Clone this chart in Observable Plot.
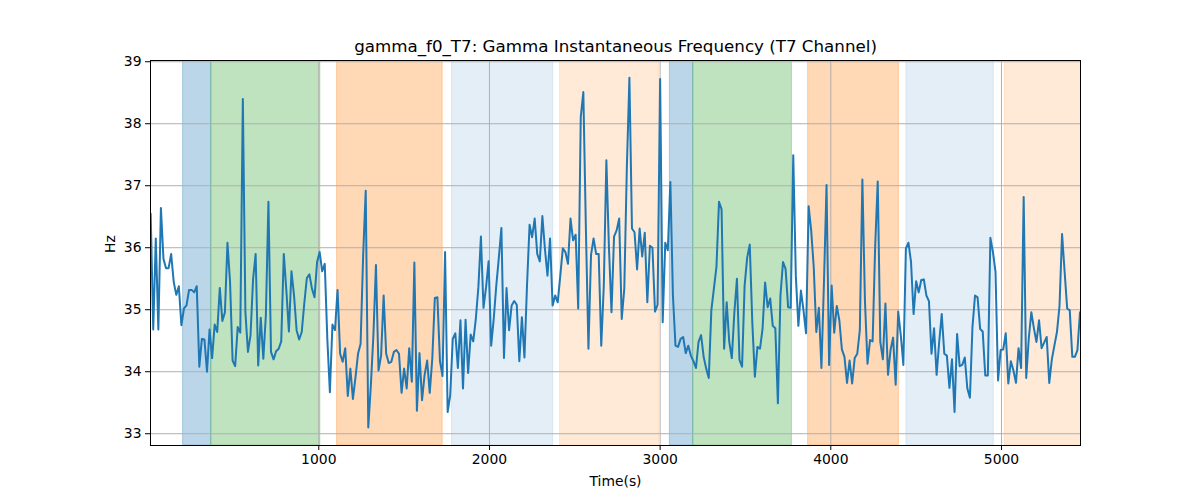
<!DOCTYPE html>
<html>
<head>
<meta charset="utf-8">
<script src="https://cdn.jsdelivr.net/npm/d3@7"></script>
<script src="https://cdn.jsdelivr.net/npm/@observablehq/plot@0.6"></script>
<style>
  html, body { margin: 0; padding: 0; background: #fff; }
  #chart { width: 1200px; height: 500px; }
</style>
</head>
<body>
<div id="chart"></div>
<script>
// Sample timing (s)
const startTime = 15;
const sampleStep = 15;

// Gamma instantaneous frequency (Hz)
const freqHz = [
  36.55, 34.68, 36.15, 34.68, 36.64, 35.82, 35.67, 35.67, 35.9, 35.45,
  35.24, 35.38, 34.75, 35.02, 35.07, 35.32, 35.32, 35.28, 35.38, 34.08,
  34.53, 34.52, 34.0, 34.68, 34.22, 34.76, 34.64, 35.35, 34.82, 34.96,
  36.08, 35.45, 34.18, 34.09, 34.72, 34.63, 38.4, 34.96, 34.32, 34.59,
  35.49, 35.9, 34.1, 34.87, 34.21, 34.91, 36.74, 34.32, 34.2, 34.33,
  34.37, 34.49, 35.9, 35.31, 34.65, 35.62, 35.23, 34.67, 34.52, 34.64,
  35.1, 35.51, 35.57, 35.34, 35.2, 35.77, 35.93, 35.62, 35.74, 34.53,
  33.67, 34.76, 34.67, 35.32, 34.29, 34.16, 34.38, 33.61, 34.05, 33.56,
  33.91, 34.29, 34.45, 35.88, 36.92, 33.1, 33.78, 34.59, 35.72, 34.02,
  34.26, 35.23, 34.29, 34.14, 34.16, 34.32, 34.35, 34.29, 33.66, 34.05,
  33.73, 34.38, 33.84, 35.76, 33.37, 34.3, 33.54, 33.95, 34.18, 33.66,
  34.21, 35.19, 35.2, 34.17, 33.93, 35.93, 33.35, 33.62, 34.53, 34.62,
  34.06, 34.83, 33.73, 34.84, 33.98, 34.6, 34.49, 34.85, 35.36, 36.18,
  35.03, 35.36, 35.78, 34.42, 34.85, 35.39, 35.84, 36.32, 34.22, 35.35,
  34.67, 35.07, 35.14, 35.08, 34.17, 34.88, 34.23, 35.39, 36.37, 36.17,
  36.47, 35.9, 35.78, 36.51, 35.98, 35.55, 36.15, 35.07, 35.23, 35.12,
  35.55, 35.99, 35.93, 35.74, 36.47, 36.12, 36.21, 35.02, 38.11, 38.51,
  36.31, 34.37, 35.88, 36.15, 35.9, 35.9, 34.42, 35.39, 37.41, 36.01,
  34.96, 36.18, 36.28, 36.47, 34.85, 35.34, 37.3, 38.74, 36.31, 36.25,
  35.65, 36.31, 35.86, 36.24, 35.12, 36.03, 36.0, 34.97, 35.08, 38.72,
  34.8, 36.08, 35.96, 37.06, 35.23, 34.42, 34.4, 34.53, 34.56, 34.3,
  34.42, 34.26, 34.17, 34.06, 34.48, 34.59, 34.24, 34.05, 33.9, 34.99,
  35.34, 35.69, 36.74, 36.62, 34.37, 35.12, 34.48, 34.22, 34.96, 35.5,
  34.19, 34.08, 35.39, 35.84, 36.05, 34.8, 33.92, 34.4, 34.37, 34.69,
  35.44, 35.04, 35.18, 34.74, 34.7, 33.49, 35.23, 35.77, 35.66, 35.04,
  35.03, 37.49, 35.55, 34.74, 35.31, 34.99, 34.62, 36.67, 36.28, 35.69,
  34.64, 35.03, 34.06, 35.45, 37.01, 34.11, 35.39, 34.63, 35.06, 34.83,
  34.36, 34.24, 33.82, 34.18, 33.81, 34.22, 34.29, 34.67, 37.1, 35.15,
  34.13, 34.51, 34.49, 36.03, 37.07, 34.48, 34.2, 35.1, 33.95, 34.35,
  34.55, 33.79, 34.97, 34.59, 34.11, 35.99, 36.08, 35.77, 34.93, 35.46,
  35.28, 35.48, 35.49, 35.23, 35.14, 34.29, 34.7, 33.95, 34.48, 34.93,
  34.29, 34.26, 33.74, 34.2, 33.35, 34.61, 34.09, 34.11, 34.23, 33.73,
  33.58, 34.72, 35.23, 35.2, 34.69, 34.65, 33.94, 33.94, 36.16, 35.93,
  35.61, 33.86, 34.35, 34.36, 34.62, 33.81, 34.17, 34.02, 33.82, 34.38,
  34.06, 36.82, 33.9, 34.54, 34.96, 34.7, 34.48, 34.83, 34.38, 34.47,
  34.56, 33.82, 34.2, 34.42, 34.64, 35.06, 36.22, 35.61, 35.02, 34.99,
  34.24, 34.24, 34.35, 34.96
];

// Shaded intervals
const bandStart = [205, 370, 1107, 1781, 2414, 3057, 3194, 3867, 4443, 5020];
const bandEnd   = [370, 1009, 1726, 2373, 2993, 3194, 3772, 4399, 4955, 5470];
const bandColor = ["#1f77b4", "#2ca02c", "#ff7f0e", "#1f77b4", "#ff7f0e",
                   "#1f77b4", "#2ca02c", "#ff7f0e", "#1f77b4", "#ff7f0e"];
const bandAlpha = [0.3, 0.3, 0.3, 0.12, 0.16, 0.3, 0.3, 0.3, 0.12, 0.16];

// Axes
const xTicks = [1000, 2000, 3000, 4000, 5000];
const yTicks = [33, 34, 35, 36, 37, 38, 39];
const xDomain = [14, 5463];
const yDomain = [32.81, 39.02];

const titleText = "gamma_f0_T7: Gamma Instantaneous Frequency (T7 Channel)";
const xLabel = "Time(s)";
const yLabel = "Hz";

const series = freqHz.map((v, i) => ({ t: startTime + i * sampleStep, v }));
const bands = bandStart.map((s, i) => ({
  x1: s, x2: bandEnd[i], color: bandColor[i], alpha: bandAlpha[i]
}));

const chart = Plot.plot({
  width: 1200,
  height: 500,
  marginTop: 60,
  marginBottom: 55,
  marginLeft: 150,
  marginRight: 120,
  style: { fontFamily: "DejaVu Sans, sans-serif", fontSize: "13.9px", background: "#fff", color: "#000" },
  x: { domain: xDomain },
  y: { domain: yDomain },
  marks: [
    Plot.rect(bands, {
      x1: "x1", x2: "x2",
      fill: d => d.color, fillOpacity: d => d.alpha,
      stroke: d => d.color, strokeOpacity: d => d.alpha, strokeWidth: 1,
      clip: true
    }),
    Plot.gridX({ ticks: xTicks, stroke: "#b0b0b0", strokeOpacity: 1, strokeWidth: 1 }),
    Plot.gridY({ ticks: yTicks, stroke: "#b0b0b0", strokeOpacity: 1, strokeWidth: 1 }),
    Plot.line(series, { x: "t", y: "v", stroke: "#1f77b4", strokeWidth: 2, clip: true }),
    Plot.frame({ stroke: "#000", strokeWidth: 1 }),
    Plot.axisX({ ticks: xTicks, tickFormat: d3.format("d"), tickSize: 5, tickPadding: 4, label: null, fontSize: "13.9px" }),
    Plot.axisY({ ticks: yTicks, tickFormat: d3.format("d"), tickSize: 5, tickPadding: 4, label: null, fontSize: "13.9px" }),
    Plot.text([titleText], { frameAnchor: "top", dy: -14, fontSize: "16.7px", lineAnchor: "middle", fill: "#000" }),
    Plot.text([xLabel], { frameAnchor: "bottom", dy: 36, fontSize: "13.9px", lineAnchor: "middle", fill: "#000" }),
    Plot.text([yLabel], { frameAnchor: "left", dx: -40, rotate: -90, fontSize: "13.9px", lineAnchor: "middle", fill: "#000" })
  ]
});

document.getElementById("chart").appendChild(chart);
</script>
</body>
</html>
